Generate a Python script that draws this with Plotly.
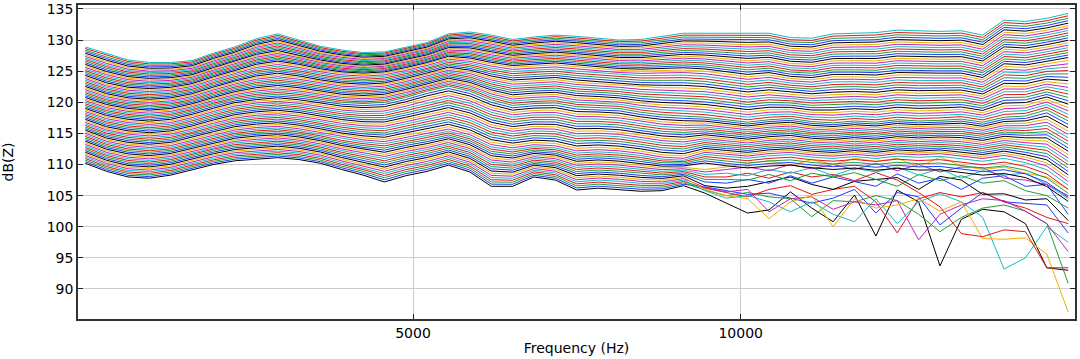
import plotly.graph_objects as go

# Frequency grid (Hz), 47 points
FREQ_HZ = [0, 326, 652, 978, 1304, 1630, 1956, 2282, 2608, 2934, 3260, 3586, 3912,
           4238, 4564, 4890, 5216, 5542, 5868, 6194, 6520, 6846, 7172, 7498, 7824,
           8150, 8476, 8802, 9128, 9454, 9780, 10106, 10432, 10758, 11084, 11410,
           11736, 12062, 12388, 12714, 13040, 13366, 13692, 14018, 14344, 14670, 14996]

# Key curves of the family of curves (dB)
TOP = [128.9, 127.8, 126.8, 126.4, 126.4, 126.7, 127.9, 128.9, 130.2, 131.0, 130.0, 129.0,
       128.4, 128.0, 128.1, 128.8, 129.6, 131.0, 131.3, 130.8, 130.1, 130.5, 130.8, 130.6,
       130.3, 130.0, 130.1, 130.6, 131.1, 131.1, 131.1, 131.1, 131.1, 130.4, 130.3, 131.0,
       131.1, 131.2, 131.6, 131.5, 131.4, 131.5, 130.8, 133.2, 133.0, 133.5, 134.3]
UPPER_QUARTER = [124.2, 123.0, 122.3, 122.1, 122.3, 122.9, 124.0, 125.0, 126.0, 126.5, 126.0,
                 125.3, 124.8, 124.6, 124.8, 125.5, 126.3, 127.3, 127.0, 126.3, 125.8, 126.0,
                 126.2, 125.9, 125.6, 125.3, 125.2, 125.3, 125.4, 125.2, 124.8, 124.3, 124.6,
                 124.0, 123.8, 124.3, 124.3, 124.2, 124.6, 124.5, 124.5, 124.5, 123.8, 126.0,
                 125.8, 126.4, 127.0]
MIDDLE = [119.5, 118.4, 117.8, 117.5, 117.8, 118.6, 119.6, 120.5, 121.0, 121.3, 121.0, 120.5,
          120.0, 119.8, 120.0, 120.8, 121.8, 122.6, 121.8, 120.4, 119.5, 119.8, 119.9, 119.3,
          119.2, 119.0, 118.4, 118.0, 117.8, 117.6, 117.2, 116.8, 117.2, 117.4, 116.9, 116.7,
          117.0, 116.8, 117.2, 117.0, 117.1, 117.3, 116.8, 117.6, 117.8, 118.8, 117.0]
LOWER_QUARTER = [114.9, 113.6, 112.9, 112.6, 112.9, 113.7, 114.6, 115.4, 115.8, 116.0, 115.6,
                 115.0, 114.3, 113.8, 113.5, 114.2, 114.8, 115.5, 114.6, 113.0, 112.5, 113.0,
                 112.8, 112.0, 112.2, 112.0, 111.6, 111.0, 110.8, 111.8, 111.5, 111.2, 111.6,
                 111.8, 111.4, 111.2, 111.5, 111.2, 111.6, 111.4, 111.6, 111.2, 110.8, 111.3,
                 110.6, 109.5, 107.0]
BOTTOM = [110.2, 108.9, 108.0, 107.8, 108.3, 109.2, 110.0, 110.6, 110.8, 111.1, 110.8, 110.2,
          109.2, 108.3, 107.2, 108.2, 108.9, 109.9, 108.8, 106.5, 106.5, 108.0, 107.5, 105.9,
          106.2, 106.0, 105.7, 105.8, 106.6, 105.4, 104.5, 104.0, 104.0, 104.0, 103.5, 103.0,
          103.0, 102.5, 102.5, 102.0, 101.5, 101.0, 100.5, 100.0, 99.5, 97.0, 95.0]

# Lowest curves become erratic above ~9.4 kHz: values from index NOISY_START on
NOISY_START = 29
NOISY = [
    [105.4, 103.8, 102.2, 102.7, 105.6, 103.0, 100.8, 105.1, 98.5, 105.9, 104.0, 93.7, 101.2, 102.8, 102.4, 100.5, 93.4, 93.0],
    [106.4, 105.8, 105.2, 105.4, 104.6, 103.8, 104.6, 106.0, 102.2, 105.5, 104.8, 100.3, 103.0, 105.5, 104.0, 103.8, 103.5, 99.0],
    [105.9, 105.0, 105.5, 104.8, 104.5, 101.6, 104.2, 104.0, 105.0, 104.2, 102.0, 99.2, 101.5, 103.0, 103.5, 102.5, 100.5, 90.9],
    [106.2, 105.5, 104.8, 106.0, 106.6, 105.2, 106.0, 106.5, 104.0, 99.0, 104.5, 105.5, 104.8, 105.5, 104.0, 103.0, 101.5, 100.5],
    [105.8, 104.6, 105.0, 104.0, 102.4, 104.0, 102.0, 100.8, 104.5, 100.5, 104.0, 105.3, 104.0, 101.5, 93.2, 95.0, 100.0, 97.5],
    [106.3, 105.6, 106.0, 102.4, 104.5, 104.8, 102.8, 104.0, 103.5, 104.2, 97.9, 102.0, 103.5, 104.5, 104.2, 102.5, 100.5, 96.0],
    [106.0, 105.0, 104.5, 101.3, 104.0, 105.0, 100.0, 104.5, 103.0, 103.5, 104.5, 102.5, 104.0, 98.1, 98.0, 98.2, 95.6, 86.3],
    [106.6, 106.2, 106.5, 107.2, 108.0, 106.8, 106.0, 107.3, 107.6, 107.9, 106.0, 108.1, 107.5, 105.2, 105.3, 104.3, 104.5, 101.0],
    [107.2, 107.0, 107.6, 107.0, 108.2, 107.0, 108.0, 107.2, 106.5, 108.5, 107.0, 107.8, 106.0, 107.8, 108.2, 106.5, 106.8, 102.0],
    [107.6, 107.6, 107.5, 108.4, 107.4, 108.6, 108.0, 108.7, 107.6, 106.5, 108.4, 107.4, 108.2, 107.0, 107.4, 105.8, 105.0, 103.0],
    [108.0, 108.0, 108.6, 107.8, 108.8, 108.0, 108.4, 107.4, 108.7, 107.5, 105.5, 103.2, 98.9, 98.4, 99.5, 99.2, 93.4, 93.4],
    [108.4, 108.6, 108.2, 109.2, 108.6, 109.5, 108.2, 109.4, 108.8, 109.6, 108.3, 109.3, 107.8, 109.0, 108.3, 108.6, 106.8, 104.5],
    [108.8, 109.2, 109.6, 109.0, 110.0, 109.3, 110.0, 109.2, 110.2, 109.0, 110.0, 108.8, 109.6, 109.5, 107.8, 107.5, 106.8, 105.0],
    [109.2, 109.6, 110.2, 110.6, 109.8, 110.8, 110.0, 111.0, 110.5, 111.0, 109.6, 111.2, 109.8, 109.2, 109.6, 108.6, 108.0, 106.0],
]

N_LINES = 75
X_TICKS = [5000, 10000]
Y_TICKS = [90, 95, 100, 105, 110, 115, 120, 125, 130, 135]
# colour cycle b, g, r, c, m, y, k
CYCLE = ["#1c3cff", "#1f9e3a", "#e3141c", "#13bcbc", "#bd22bd", "#f0b000", "#000000"]

KEYS = [BOTTOM, LOWER_QUARTER, MIDDLE, UPPER_QUARTER, TOP]


def curve(j):
    s = j / (N_LINES - 1) * 4
    i = min(int(s), 3)
    t = s - i
    lo, hi = KEYS[i], KEYS[i + 1]
    vals = [lo[k] + (hi[k] - lo[k]) * t for k in range(len(FREQ_HZ))]
    if j < len(NOISY):
        for k in range(NOISY_START, len(FREQ_HZ)):
            vals[k] = NOISY[j][k - NOISY_START]
    return vals


fig = go.Figure()
for j in range(N_LINES):
    fig.add_trace(go.Scatter(
        x=FREQ_HZ, y=curve(j), mode="lines",
        line=dict(color=CYCLE[(j + 6) % 7], width=1),
        showlegend=False, hoverinfo="skip"))

axis_common = dict(
    ticks="inside", ticklen=5, tickcolor="#222", tickwidth=1,
    showline=True, linecolor="#333", linewidth=1.5, mirror="ticks",
    showgrid=True, gridcolor="#cdcdcd", gridwidth=1, zeroline=False,
    tickfont=dict(size=14, color="black"), automargin=False,
)

fig.update_layout(
    width=1080, height=359,
    margin=dict(l=78, r=5, t=5, b=40),
    plot_bgcolor="white", paper_bgcolor="white",
    font=dict(family="DejaVu Sans", size=14, color="black"),
    showlegend=False,
    xaxis=dict(range=[-111, 15100], tickvals=X_TICKS, ticktext=[str(v) for v in X_TICKS],
               title=dict(text="Frequency (Hz)", standoff=4, font=dict(size=14)),
               **axis_common),
    yaxis=dict(range=[85.17, 135.64], tickvals=Y_TICKS,
               title=dict(text="dB(Z)", standoff=30, font=dict(size=14)),
               **axis_common),
)

fig.write_html("out.html", config={"displayModeBar": False},
               post_script="document.body.style.margin='0';document.body.style.overflow='hidden';")
